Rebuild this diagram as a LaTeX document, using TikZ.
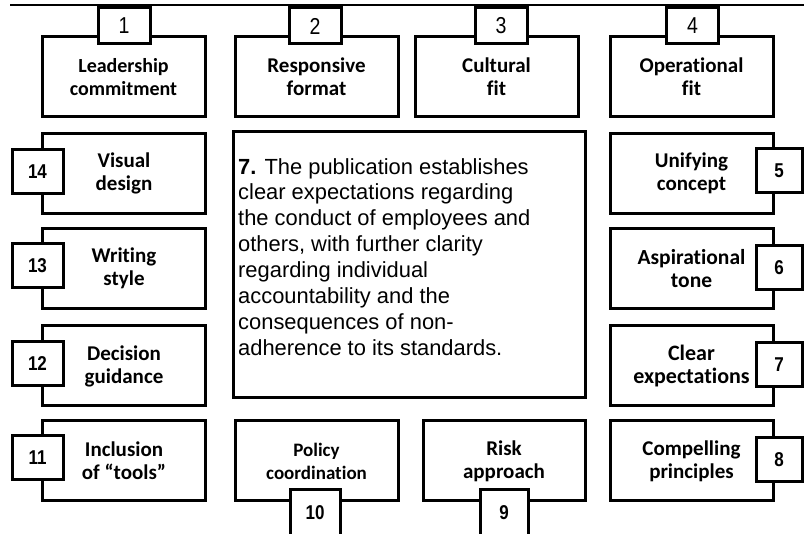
\documentclass[tikz,border=0pt]{standalone}
\usepackage{fontspec}
\newfontfamily\cardfont[Ligatures=NoCommon]{Carlito}
\newfontfamily\numfont[FakeStretch=0.85]{Liberation Sans}
\newfontfamily\bodyfont{Liberation Sans}
\newcommand\cardsize[1]{\fontsize{#1}{23}\selectfont}
\begin{document}
\begin{tikzpicture}[x=1pt,y=-1pt,
  frame/.style={draw=black, fill=white, line width=3pt, inner sep=0pt},
  card/.style={frame, minimum width=163pt, minimum height=80pt, align=center,
    font=\cardfont\bfseries\cardsize{21}},
  toptab/.style={frame, minimum width=52pt, minimum height=36pt,
    font=\numfont\fontsize{23}{24}\selectfont},
  sidetab/.style={frame, minimum width=51pt, minimum height=44pt,
    font=\numfont\bfseries\fontsize{20}{21}\selectfont},
]
\useasboundingbox (0,0) rectangle (804,534);
\clip (0,0) rectangle (804,534);
\fill[white] (0,0) rectangle (804,534);

% rule across the top
\coordinate (ruleL) at (10,5);
\coordinate (ruleR) at (804,5);
\draw[line width=2.7pt] (ruleL) -- (ruleR);

% top row
\node[card, font=\cardfont\bfseries\cardsize{20}] (c1) at (123.5,77) {Leadership\\commitment};
\node[card] (c2) at (316.5,77) {Responsive\\format};
\node[card] (c3) at (496.5,77) {Cultural\\fit};
\node[card] (c4) at (691.5,77) {Operational\\fit};
\node[toptab] (t1) at (124,26) {1};
\node[toptab] (t2) at (315,26) {2};
\node[toptab] (t3) at (501,26) {3};
\node[toptab] (t4) at (692.5,26) {4};

% left column
\node[card] (c14) at (124,173.5) {Visual\\design};
\node[card] (c13) at (124,268.5) {Writing\\style};
\node[card] (c12) at (124,366) {Decision\\guidance};
\node[card] (c11) at (124,461) {Inclusion\\of “tools”};
\node[sidetab] (t14) at (37.5,171.5) {14};
\node[sidetab] (t13) at (37.5,266) {13};
\node[sidetab] (t12) at (37.5,363.5) {12};
\node[sidetab] (t11) at (37.5,458) {11};

% right column
\node[card] (c5) at (691.5,173.5) {Unifying\\concept};
\node[card, font=\cardfont\bfseries\cardsize{21.5}] (c6) at (691.5,268.5) {Aspirational\\tone};
\node[card, font=\cardfont\bfseries\cardsize{22}] (c7) at (691.5,366) {Clear\\expectations};
\node[card] (c8) at (691.5,461) {Compelling\\principles};
\node[sidetab, minimum width=46pt] (t5) at (779,170.5) {5};
\node[sidetab, minimum width=46pt] (t6) at (779,267.5) {6};
\node[sidetab, minimum width=46pt] (t7) at (779,364.5) {7};
\node[sidetab, minimum width=46pt] (t8) at (779,460) {8};

% bottom row
\node[card, font=\cardfont\bfseries\cardsize{19}] (c10) at (316.5,461) {Policy\\coordination};
\node[card, minimum width=162pt] (c9) at (504,461) {Risk\\approach};
\node[sidetab, minimum width=50pt, minimum height=46pt] (t10) at (315,513) {10};
\node[sidetab, minimum width=48pt, minimum height=46pt] (t9) at (504,513) {9};

% central description
\node[frame, minimum width=352pt, minimum height=266pt] (main) at (409,265) {};
\node[anchor=north west, align=left, inner sep=0pt,
  font=\bodyfont\fontsize{21.9}{25.9}\selectfont] (maintext) at (238,158)
  {\textbf{7.} The publication establishes\\
   clear expectations regarding\\
   the conduct of employees and\\
   others, with further clarity\\
   regarding individual\\
   accountability and the\\
   consequences of non-\\
   adherence to its standards.};
\end{tikzpicture}
\end{document}
